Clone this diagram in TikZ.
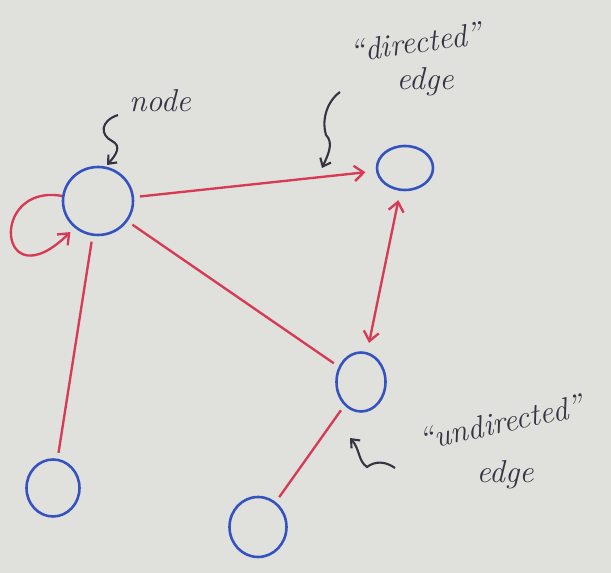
\documentclass[tikz,border=0pt]{standalone}
\usepackage{tikz}
\usetikzlibrary{shapes.geometric,arrows.meta}
\tikzset {>={Straight Barb[length=8pt,width=13pt]}}
\definecolor{paper}{RGB}{224,224,221}
\definecolor{blueink}{RGB}{52,82,192}
\definecolor{redink}{RGB}{214,58,84}
\definecolor{darkink}{RGB}{52,52,66}

\begin{document}
\begin{tikzpicture}[x=0.03cm,y=0.03cm,
  vertex/.style={draw=blueink,line width=2.2pt,ellipse,inner sep=0pt},
  edge/.style={draw=redink,line width=2pt,shorten >=5pt,shorten <=5pt},
  ink/.style={draw=darkink,line width=1.8pt,
    -{Straight Barb[length=6pt,width=10pt]}},
  handtext/.style={text=darkink,font=\fontsize{27}{30}\selectfont\itshape}]

% Paper
\fill [paper] (0,0) rectangle (611,573);
\useasboundingbox (0,0) rectangle (611,573);

% Place nodes
\node[vertex,minimum width=2.1cm,minimum height=2.04cm] (A) at (98,372) {};
\node[vertex,minimum width=1.68cm,minimum height=1.32cm] (B) at (405,405) {};
\node[vertex,minimum width=1.47cm,minimum height=1.77cm] (C) at (361,191) {};
\node[vertex,minimum width=1.59cm,minimum height=1.71cm] (D) at (53,85) {};
\node[vertex,minimum width=1.71cm,minimum height=1.8cm] (E) at (258,46) {};

% Draw edges
\draw [edge,->,shorten >=9pt] (A) -- (B);
\draw [edge,<->,shorten >=8pt,shorten <=8pt] (B) -- (C);
\draw [edge] (A) -- (C);
\draw [edge] (A) -- (D);
\draw [edge] (C) -- (E);

% Draw self loop
\draw [edge,->,shorten <=0pt] (A.172) .. controls (-12,390) and (-2,270) .. (A.229);

% Labels
\node[handtext,anchor=base] (nodetxt) at (160,461) {node};
\node[handtext,anchor=base,rotate=8] (dirtxt) at (417,520) {``directed''};
\node[handtext,anchor=base] (diredge) at (425,483) {edge};
\node[handtext,anchor=base,rotate=12] (undirtxt) at (503,140) {``undirected''};
\node[handtext,anchor=base] (undiredge) at (505,90) {edge};

% Pointers to the labels
\coordinate (nodeptr) at (118,458);
\coordinate (dirptr) at (340,481);
\coordinate (undirptr) at (395,105);
\draw [ink] (nodeptr) .. controls (100,452) and (100,438) .. (112,432)
  .. controls (122,427) and (116,418) .. (107,408);
\draw [ink] (dirptr) .. controls (325,470) and (322,450) .. (326,438)
  .. controls (334,430) and (328,418) .. (322,405);
\draw [ink] (undirptr) .. controls (385,112) and (375,112) .. (367,106)
  .. controls (358,112) and (360,124) .. (350,135);

\end{tikzpicture}
\end{document}
